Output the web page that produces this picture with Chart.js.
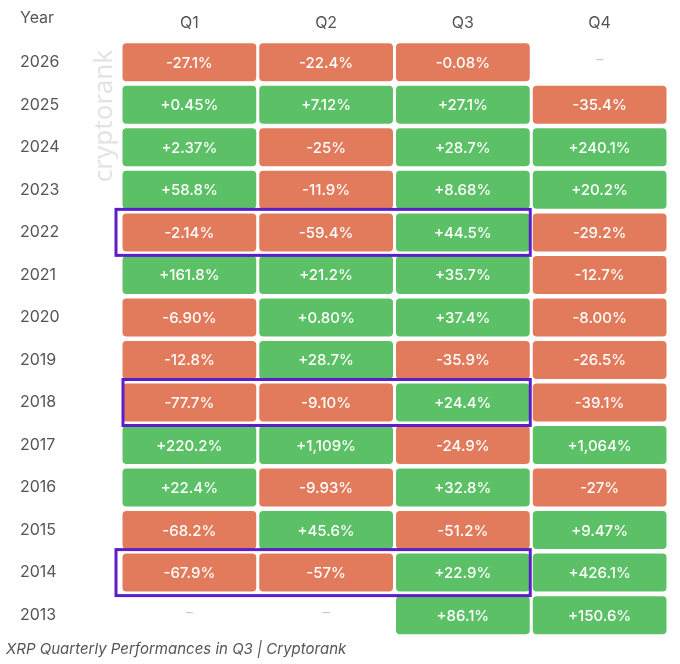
<!DOCTYPE html>
<html><head><meta charset="utf-8">
<script src="https://cdn.jsdelivr.net/npm/chart.js@4"></script>
<style>
body{margin:0;background:#fff;width:680px;height:664px;overflow:hidden;font-family:Inter,"Noto Sans",sans-serif}
#wrap{position:absolute;left:0;top:0;width:680px;height:646px}
#cap{position:absolute;left:6px;top:639px;font-style:italic;color:#555;font-size:15px;font-family:Inter,"Noto Sans",sans-serif}
</style></head><body>
<div id="wrap"><canvas id="c"></canvas></div>
<div id="cap">XRP Quarterly Performances in Q3 | Cryptorank</div>
<script>
const quarters=['Q1','Q2','Q3','Q4'];
const years=['2026','2025','2024','2023','2022','2021','2020','2019','2018','2017','2016','2015','2014','2013'];
const q1=['-27.1%','+0.45%','+2.37%','+58.8%','-2.14%','+161.8%','-6.90%','-12.8%','-77.7%','+220.2%','+22.4%','-68.2%','-67.9%',null];
const q2=['-22.4%','+7.12%','-25%','-11.9%','-59.4%','+21.2%','+0.80%','+28.7%','-9.10%','+1,109%','-9.93%','+45.6%','-57%',null];
const q3=['-0.08%','+27.1%','+28.7%','+8.68%','+44.5%','+35.7%','+37.4%','-35.9%','+24.4%','-24.9%','+32.8%','-51.2%','+22.9%','+86.1%'];
const q4=[null,'-35.4%','+240.1%','+20.2%','-29.2%','-12.7%','-8.00%','-26.5%','-39.1%','+1,064%','-27%','+9.47%','+426.1%','+150.6%'];
const highlighted=['2022','2018','2014'];
const cols=[q1,q2,q3,q4];
const RED='#e27b5c',GREEN='#5cc166',PURPLE='#5b1fc9';
function rr(ctx,x,y,w,h,r){ctx.beginPath();ctx.moveTo(x+r,y);ctx.arcTo(x+w,y,x+w,y+h,r);ctx.arcTo(x+w,y+h,x,y+h,r);ctx.arcTo(x,y+h,x,y,r);ctx.arcTo(x,y,x+w,y,r);ctx.closePath();}
const cells={id:'cells',beforeDatasetsDraw(ch){
 const ctx=ch.ctx,xs=ch.scales.x,ys=ch.scales.y;
 const cw=(xs.right-xs.left)/quarters.length, rh=(ys.bottom-ys.top)/years.length;
 ctx.save();
 ctx.translate(xs.left-16,ys.top+75);ctx.rotate(-Math.PI/2);
 ctx.fillStyle='#e3e3e3';ctx.font='26px "Noto Sans",sans-serif';ctx.textAlign='center';ctx.textBaseline='middle';
 ctx.fillText('cryptorank',0,0);ctx.restore();ctx.save();
 ctx.fillStyle='#555';ctx.font='16px Inter,sans-serif';ctx.textBaseline='middle';ctx.textAlign='left';
 ctx.fillText('Year',20,18);
 cols.forEach((arr,ci)=>{arr.forEach((v,ri)=>{
  const cx=xs.getPixelForValue(ci),cy=ys.getPixelForValue(ri);
  if(v===null){ctx.fillStyle='#c8c8c8';ctx.font='14px Inter,sans-serif';ctx.textAlign='center';ctx.fillText('–',cx,cy-2);return;}
  ctx.fillStyle=v.startsWith('-')?RED:GREEN;
  rr(ctx,cx-cw/2+1.5,cy-19,cw-3,38,4);ctx.fill();
  ctx.fillStyle='#fff';ctx.font='500 15px Inter,sans-serif';ctx.textAlign='center';ctx.fillText(v,cx,cy+1);
 });});
 ctx.strokeStyle=PURPLE;ctx.lineWidth=3;
 highlighted.forEach(y=>{const ri=years.indexOf(y);const cy=ys.getPixelForValue(ri);
  const x0=xs.getPixelForValue(0)-cw/2-(y==='2018'?-2:5),x1=xs.getPixelForValue(2)+cw/2-1;
  ctx.strokeRect(x0,cy-23,x1-x0,46);});
 ctx.restore();}};
new Chart(document.getElementById('c'),{type:'scatter',data:{datasets:[]},plugins:[cells],
options:{responsive:true,maintainAspectRatio:false,animation:false,
 layout:{padding:{left:20,right:12,top:0,bottom:4}},
 plugins:{legend:{display:false},tooltip:{enabled:false}},
 scales:{
  x:{type:'category',labels:quarters,position:'top',offset:true,grid:{display:false},border:{display:false},
     ticks:{color:'#555',font:{size:16,family:'Inter'},padding:0},afterFit(s){s.height=41;}},
  y:{type:'category',labels:years,offset:true,grid:{display:false},border:{display:false},
     ticks:{color:'#555',font:{size:16,family:'Inter'},crossAlign:'far',padding:0},afterFit(s){s.width=101;}}
 }}});
</script></body></html>
